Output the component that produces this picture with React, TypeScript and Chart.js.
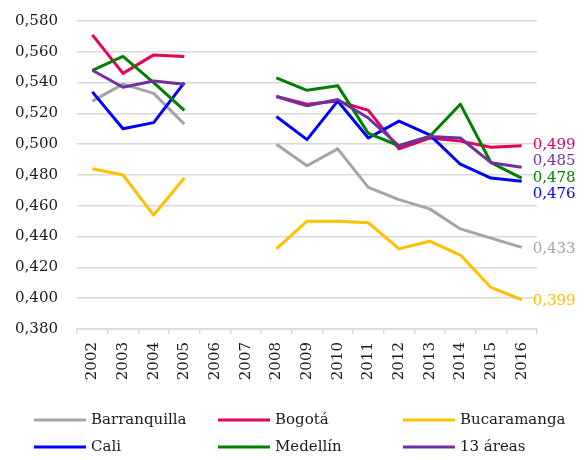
import React, { useEffect, useRef } from 'react';
import { Chart, registerables } from 'chart.js';

Chart.register(...registerables);

const years = ['2002', '2003', '2004', '2005', '2006', '2007', '2008', '2009', '2010', '2011', '2012', '2013', '2014', '2015', '2016'];
const seriesNames = ['Barranquilla', 'Bogotá', 'Bucaramanga', 'Cali', 'Medellín', '13 áreas'];
const barranquilla = [0.528, 0.539, 0.533, 0.513, null, null, 0.500, 0.486, 0.497, 0.472, 0.464, 0.458, 0.445, 0.439, 0.433];
const bogota = [0.571, 0.546, 0.558, 0.557, null, null, 0.531, 0.526, 0.528, 0.522, 0.497, 0.504, 0.502, 0.498, 0.499];
const bucaramanga = [0.484, 0.480, 0.454, 0.478, null, null, 0.432, 0.450, 0.450, 0.449, 0.432, 0.437, 0.428, 0.407, 0.399];
const cali = [0.534, 0.510, 0.514, 0.540, null, null, 0.518, 0.503, 0.528, 0.504, 0.515, 0.506, 0.487, 0.478, 0.476];
const medellin = [0.548, 0.557, 0.540, 0.522, null, null, 0.543, 0.535, 0.538, 0.507, 0.499, 0.505, 0.526, 0.488, 0.478];
const areas13 = [0.548, 0.537, 0.541, 0.539, null, null, 0.531, 0.525, 0.529, 0.517, 0.499, 0.505, 0.504, 0.488, 0.485];
const seriesValues = [barranquilla, bogota, bucaramanga, cali, medellin, areas13];
const seriesColors = ['#a5a5a5', '#e6005a', '#ffc000', '#0000ff', '#008000', '#7030a0'];
const yMin = 0.38;
const yMax = 0.58;
const yStep = 0.02;

const FONT = '"DejaVu Serif", "Liberation Serif", serif';
const fmt = (v: number) => v.toFixed(3).replace('.', ',');

const endLabelsPlugin = {
  id: 'endLabels',
  afterDatasetsDraw(chart: any) {
    const ctx = chart.ctx;
    const items: any[] = [];
    chart.data.datasets.forEach((ds: any, i: number) => {
      const meta = chart.getDatasetMeta(i);
      let idx = ds.data.length - 1;
      while (idx >= 0 && ds.data[idx] == null) idx--;
      if (idx < 0) return;
      const pt = meta.data[idx];
      items.push({ x: pt.x, y: pt.y, text: fmt(ds.data[idx]), color: ds.borderColor });
    });
    items.sort((a, b) => a.y - b.y);
    const gap = 16.2;
    let groups = items.map((it) => ({ members: [it], pos: [it.y] }));
    let changed = true;
    while (changed) {
      changed = false;
      for (let g = 0; g < groups.length - 1; g++) {
        const a = groups[g];
        const b = groups[g + 1];
        if (b.pos[0] - a.pos[a.pos.length - 1] < gap) {
          const members = a.members.concat(b.members);
          const mean = members.reduce((s, m) => s + m.y, 0) / members.length;
          const n = members.length;
          const pos = members.map((_, k) => mean + (k - (n - 1) / 2) * gap);
          groups.splice(g, 2, { members, pos });
          changed = true;
          break;
        }
      }
    }
    ctx.save();
    ctx.font = '15px ' + FONT;
    ctx.textAlign = 'left';
    ctx.textBaseline = 'middle';
    groups.forEach((g) => {
      g.members.forEach((m, k) => {
        ctx.fillStyle = m.color;
        ctx.fillText(m.text, m.x + 11, g.pos[k] + 1.5);
      });
    });
    ctx.restore();
  },
};

const gridLegendPlugin = {
  id: 'gridLegend',
  afterDraw(chart: any) {
    const ctx = chart.ctx;
    const colX = [34, 218, 403];
    const rowY = [420, 447];
    ctx.save();
    ctx.font = '15px ' + FONT;
    ctx.textAlign = 'left';
    ctx.textBaseline = 'middle';
    chart.data.datasets.forEach((ds: any, i: number) => {
      const x = colX[i % 3];
      const y = rowY[Math.floor(i / 3)];
      ctx.strokeStyle = ds.borderColor;
      ctx.lineWidth = 3;
      ctx.lineCap = 'butt';
      ctx.beginPath();
      ctx.moveTo(x, y);
      ctx.lineTo(x + 52, y);
      ctx.stroke();
      ctx.fillStyle = '#1a1a1a';
      ctx.fillText(ds.label, x + 57, y);
    });
    ctx.restore();
  },
};

export default function App() {
  const ref = useRef<HTMLCanvasElement | null>(null);
  useEffect(() => {
    document.body.style.margin = '0';
    const canvas = ref.current;
    if (!canvas) return;
    let chart: any = null;
    let cancelled = false;
    const build = () => {
      if (cancelled) return;
      chart = new Chart(canvas, {
        type: 'line',
        data: {
          labels: years,
          datasets: seriesNames.map((name, i) => ({
            label: name,
            data: seriesValues[i],
            borderColor: seriesColors[i],
            backgroundColor: seriesColors[i],
            borderWidth: 3,
            pointRadius: 0,
            pointHoverRadius: 0,
            tension: 0,
            spanGaps: false,
            fill: false,
            borderJoinStyle: 'round',
            order: seriesNames.length - i,
          })),
        },
        options: {
          animation: false,
          responsive: false,
          devicePixelRatio: 1,
          layout: { padding: { top: 21, right: 47, bottom: 76, left: 0 } },
          plugins: {
            legend: { display: false },
            tooltip: { enabled: false },
            title: { display: false },
          },
          scales: {
            x: {
              type: 'category',
              offset: true,
              grid: {
                offset: true,
                drawOnChartArea: false,
                drawTicks: true,
                tickLength: 5,
                color: '#d9d9d9',
                lineWidth: 1.5,
              },
              border: { display: true, color: '#d9d9d9', width: 1.5 },
              ticks: {
                autoSkip: false,
                minRotation: 90,
                maxRotation: 90,
                padding: 8,
                color: '#1a1a1a',
                font: { family: FONT, size: 15 },
              },
              afterFit: (s: any) => { s.height = 55; },
            },
            y: {
              min: yMin,
              max: yMax,
              grid: {
                drawTicks: true,
                tickLength: 19,
                tickColor: 'rgba(0,0,0,0)',
                color: '#d9d9d9',
                lineWidth: 1.5,
              },
              border: { display: false },
              ticks: {
                stepSize: yStep,
                padding: 0,
                color: '#1a1a1a',
                font: { family: FONT, size: 15 },
                callback: (v: any) => fmt(Number(v)),
              },
              afterFit: (s: any) => { s.width = 77; },
            },
          },
        },
        plugins: [endLabelsPlugin, gridLegendPlugin],
      } as any);
    };
    const fontsApi = (document as any).fonts;
    if (fontsApi && fontsApi.load) {
      Promise.all([
        fontsApi.load('15px "DejaVu Serif"'),
        fontsApi.load('15px "Liberation Serif"'),
      ]).then(build, build);
    } else {
      build();
    }
    return () => {
      cancelled = true;
      if (chart) chart.destroy();
    };
  }, []);
  return <canvas ref={ref} width={584} height={460} style={{ display: 'block' }} />;
}
